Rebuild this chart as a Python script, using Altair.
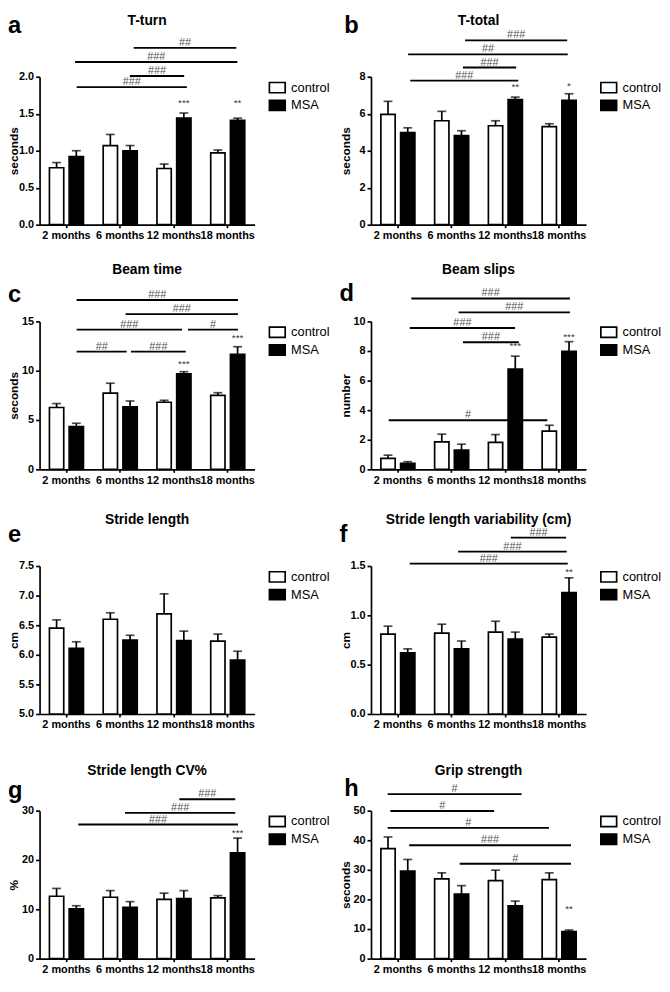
import altair as alt
import pandas as pd

categories = ["2 months", "6 months", "12 months", "18 months"]
groups = ["control", "MSA"]

# ---- a: T-turn
tturn_control = [0.77, 1.07, 0.76, 0.97]
tturn_control_sem = [0.07, 0.15, 0.06, 0.04]
tturn_msa = [0.92, 1.00, 1.44, 1.41]
tturn_msa_sem = [0.08, 0.07, 0.07, 0.03]
tturn_ticks = [0.0, 0.5, 1.0, 1.5, 2.0]
tturn_stars = [("12 months", "***", 1.64), ("18 months", "**", 1.64)]
tturn_brackets = [(1.75, 3.66, 2.39, "##"), (0.66, 3.68, 2.20, "###"),
                  (1.68, 2.69, 2.01, "###"), (0.69, 2.74, 1.86, "###")]

# ---- b: T-total
ttotal_control = [5.97, 5.62, 5.35, 5.30]
ttotal_control_sem = [0.70, 0.51, 0.27, 0.16]
ttotal_msa = [4.98, 4.82, 6.76, 6.72]
ttotal_msa_sem = [0.26, 0.26, 0.14, 0.36]
ttotal_ticks = [0, 2, 4, 6, 8]
ttotal_stars = [("12 months", "**", 7.45), ("18 months", "*", 7.5)]
ttotal_brackets = [(1.75, 3.65, 9.97, "###"), (0.69, 3.66, 9.21, "##"),
                   (1.71, 2.70, 8.50, "###"), (0.73, 2.74, 7.79, "###")]

# ---- c: Beam time
beamtime_control = [6.27, 7.73, 6.80, 7.50]
beamtime_control_sem = [0.40, 1.00, 0.20, 0.27]
beamtime_msa = [4.33, 6.33, 9.67, 11.67]
beamtime_msa_sem = [0.34, 0.60, 0.23, 0.76]
beamtime_ticks = [0, 5, 10, 15]
beamtime_stars = [("12 months", "***", 10.67), ("18 months", "***", 13.27)]
beamtime_brackets = [(0.69, 3.69, 17.17, "###"), (1.60, 3.69, 15.73, "###"),
                     (0.69, 2.65, 14.17, "###"), (2.76, 3.69, 14.17, "#"),
                     (0.69, 1.62, 11.93, "##"), (1.70, 2.72, 11.93, "###")]

# ---- d: Beam slips
beamslips_control = [0.74, 1.86, 1.82, 2.58]
beamslips_control_sem = [0.22, 0.52, 0.53, 0.40]
beamslips_msa = [0.40, 1.30, 6.77, 7.98]
beamslips_msa_sem = [0.12, 0.40, 0.88, 0.65]
beamslips_ticks = [0, 2, 4, 6, 8, 10]
beamslips_stars = [("12 months", "***", 8.32), ("18 months", "***", 8.97)]
beamslips_brackets = [(0.75, 3.70, 11.55, "###"), (1.63, 3.70, 10.61, "###"),
                      (0.72, 2.68, 9.55, "###"), (1.71, 2.75, 8.59, "###"),
                      (0.33, 3.28, 3.32, "#")]

# ---- e: Stride length
stride_control = [6.45, 6.60, 6.69, 6.23]
stride_control_sem = [0.14, 0.11, 0.34, 0.12]
stride_msa = [6.11, 6.25, 6.24, 5.91]
stride_msa_sem = [0.11, 0.08, 0.16, 0.15]
stride_ticks = [5.0, 5.5, 6.0, 6.5, 7.0, 7.5]
stride_stars = []
stride_brackets = []

# ---- f: Stride length variability (cm)
variab_control = [0.81, 0.82, 0.83, 0.78]
variab_control_sem = [0.08, 0.09, 0.11, 0.03]
variab_msa = [0.62, 0.66, 0.76, 1.23]
variab_msa_sem = [0.04, 0.08, 0.07, 0.15]
variab_ticks = [0.0, 0.5, 1.0, 1.5]
variab_stars = [("18 months", "**", 1.44)]
variab_brackets = [(2.60, 3.63, 1.788, "###"), (1.62, 3.64, 1.646, "###"),
                   (0.72, 3.66, 1.524, "###")]

# ---- g: Stride length CV%
cv_control = [12.64, 12.44, 12.0, 12.32]
cv_control_sem = [1.59, 1.35, 1.27, 0.45]
cv_msa = [10.08, 10.40, 12.19, 21.44]
cv_msa_sem = [0.64, 1.15, 1.60, 3.0]
cv_ticks = [0, 10, 20, 30]
cv_stars = [("18 months", "***", 25.5)]
cv_brackets = [(2.60, 3.64, 32.3, "###"), (1.59, 3.64, 29.55, "###"),
               (0.72, 3.69, 27.19, "###")]

# ---- h: Grip strength
grip_control = [37.16, 26.93, 26.36, 26.70]
grip_control_sem = [3.94, 2.05, 3.53, 2.28]
grip_msa = [29.55, 21.82, 17.84, 9.09]
grip_msa_sem = [3.95, 2.84, 1.59, 0.57]
grip_ticks = [0, 10, 20, 30, 40, 50]
grip_stars = [("18 months", "**", 16.7)]
grip_brackets = [(0.31, 2.80, 55.57, "#"), (0.36, 2.29, 49.9, "#"),
                 (0.31, 3.31, 44.2, "#"), (0.71, 3.72, 38.3, "###"),
                 (1.65, 3.72, 32.05, "#")]

titles = ["T-turn", "T-total", "Beam time", "Beam slips", "Stride length",
          "Stride length variability (cm)", "Stride length CV%", "Grip strength"]
letters = ["a", "b", "c", "d", "e", "f", "g", "h"]
y_titles = ["seconds", "seconds", "seconds", "number", "cm", "cm", "%", "seconds"]

panel_data = [
    (tturn_control, tturn_control_sem, tturn_msa, tturn_msa_sem, tturn_ticks, tturn_stars, tturn_brackets, ".1f"),
    (ttotal_control, ttotal_control_sem, ttotal_msa, ttotal_msa_sem, ttotal_ticks, ttotal_stars, ttotal_brackets, ".0f"),
    (beamtime_control, beamtime_control_sem, beamtime_msa, beamtime_msa_sem, beamtime_ticks, beamtime_stars, beamtime_brackets, ".0f"),
    (beamslips_control, beamslips_control_sem, beamslips_msa, beamslips_msa_sem, beamslips_ticks, beamslips_stars, beamslips_brackets, ".0f"),
    (stride_control, stride_control_sem, stride_msa, stride_msa_sem, stride_ticks, stride_stars, stride_brackets, ".1f"),
    (variab_control, variab_control_sem, variab_msa, variab_msa_sem, variab_ticks, variab_stars, variab_brackets, ".1f"),
    (cv_control, cv_control_sem, cv_msa, cv_msa_sem, cv_ticks, cv_stars, cv_brackets, ".0f"),
    (grip_control, grip_control_sem, grip_msa, grip_msa_sem, grip_ticks, grip_stars, grip_brackets, ".0f"),
]

# layout (pixels relative to each plot's top-left corner)
W, H = 218, 150
FONT = "Liberation Sans"
LW = 1.7
title_y = [-56, -56, -52, -52, -47, -47, -40, -40]
letter_xy = [(-32, -44), (-27, -44), (-32, -20), (-32, -21),
             (-32, -24), (-32, -24), (-32, -13), (-27, -15)]


def make_panel(k):
    ctrl, ctrl_sem, msa, msa_sem, ticks, stars, brackets, fmt = panel_data[k]
    ymin, ymax = ticks[0], ticks[-1]
    rows = []
    for i, cat in enumerate(categories):
        rows.append({"category": cat, "group": "control", "mean": ctrl[i],
                     "top": ctrl[i] + ctrl_sem[i], "base": ymin})
        rows.append({"category": cat, "group": "MSA", "mean": msa[i],
                     "top": msa[i] + msa_sem[i], "base": ymin})
    df = pd.DataFrame(rows)
    star_df = pd.DataFrame([{"category": c, "group": "MSA", "label": s, "y": y}
                            for c, s, y in stars],
                           columns=["category", "group", "label", "y"])
    br_df = pd.DataFrame([{"x1": a, "x2": b, "y": y, "label": t, "mid": (a + b) / 2}
                          for a, b, y, t in brackets],
                         columns=["x1", "x2", "y", "label", "mid"])

    yscale = alt.Scale(domain=[ymin, ymax], nice=False, zero=False)
    yaxis = alt.Axis(title=y_titles[k], values=ticks, format=fmt, tickSize=4,
                     labelPadding=2, titleX=-19, labelFontSize=11, titleFontSize=12)
    xaxis = alt.Axis(title=None, labelAngle=0, labelOverlap=False, tickSize=3,
                     labelPadding=2, labelFontSize=11, labelFlush=False)
    x_band = alt.X("category:N", sort=categories,
                   scale=alt.Scale(domain=categories, paddingInner=0.367, paddingOuter=0.1835),
                   axis=xaxis)
    x_off = alt.XOffset("group:N", sort=groups,
                        scale=alt.Scale(domain=groups, paddingInner=0.275, paddingOuter=0))

    bars = alt.Chart(df).mark_bar(stroke="black", strokeWidth=LW).encode(
        x=x_band, xOffset=x_off,
        y=alt.Y("mean:Q", scale=yscale, axis=yaxis),
        y2="base:Q",
        fill=alt.Fill("group:N", sort=groups,
                      scale=alt.Scale(domain=groups, range=["white", "black"]),
                      legend=alt.Legend(orient="none", legendX=W + 14, legendY=2, title=None,
                                        symbolType="M-1,-0.65H1V0.65H-1Z", symbolSize=256,
                                        symbolStrokeColor="black", symbolStrokeWidth=LW,
                                        labelFont=FONT, labelFontSize=13, labelColor="black",
                                        labelOffset=5, rowPadding=0, padding=0)),
    )
    err = alt.Chart(df).mark_rule(color="black", strokeWidth=LW).encode(
        x=x_band, xOffset=x_off,
        y=alt.Y("mean:Q", scale=yscale, axis=yaxis), y2="top:Q")
    cap = alt.Chart(df).mark_tick(color="black", orient="horizontal", size=9, thickness=LW).encode(
        x=x_band, xOffset=x_off, y=alt.Y("top:Q", scale=yscale, axis=yaxis))
    layers = [err, cap, bars]
    if len(star_df):
        layers.append(alt.Chart(star_df).mark_text(font=FONT, fontSize=10, color="#333",
                                                   baseline="middle").encode(
            x=x_band, xOffset=x_off, y=alt.Y("y:Q", scale=yscale, axis=yaxis), text="label:N"))
    main = alt.layer(*layers)

    qx = alt.Scale(domain=[0, 4], nice=False, zero=False)
    extra = []
    if len(br_df):
        extra.append(alt.Chart(br_df).mark_rule(color="black", strokeWidth=1.9).encode(
            x=alt.X("x1:Q", scale=qx, axis=None), x2="x2:Q",
            y=alt.Y("y:Q", scale=yscale, axis=yaxis)))
        extra.append(alt.Chart(br_df).mark_text(font=FONT, fontSize=11, color="#555",
                                                baseline="alphabetic", dy=-2).encode(
            x=alt.X("mid:Q", scale=qx, axis=None),
            y=alt.Y("y:Q", scale=yscale, axis=yaxis), text="label:N"))
    t_df = pd.DataFrame({"t": [titles[k]]})
    extra.append(alt.Chart(t_df).mark_text(font=FONT, fontSize=14, fontWeight="bold",
                                           color="black", baseline="middle", align="center").encode(
        text="t:N", x=alt.value(W / 2), y=alt.value(title_y[k])))
    l_df = pd.DataFrame({"t": [letters[k]]})
    lx, ly = letter_xy[k]
    extra.append(alt.Chart(l_df).mark_text(font=FONT, fontSize=24, fontWeight="bold",
                                           color="black", baseline="alphabetic", align="left").encode(
        text="t:N", x=alt.value(lx), y=alt.value(ly)))
    side = alt.layer(*extra)
    return alt.layer(main, side).resolve_scale(x="independent").properties(width=W, height=H)


panels = [make_panel(k) for k in range(8)]

chart = alt.concat(*panels, columns=2, spacing={"row": 98, "column": 118}, bounds="flush").resolve_scale(
    fill="independent").resolve_legend(fill="independent").properties(padding=0).configure_view(
    stroke=None).configure_axis(
    domainColor="black", domainWidth=LW, tickColor="black", tickWidth=LW,
    labelFont=FONT, labelFontWeight="bold", labelColor="black",
    titleFont=FONT, titleFontWeight="bold", titleColor="black", grid=False)

chart.save("out.html", embed_options={"renderer": "svg", "actions": False})
